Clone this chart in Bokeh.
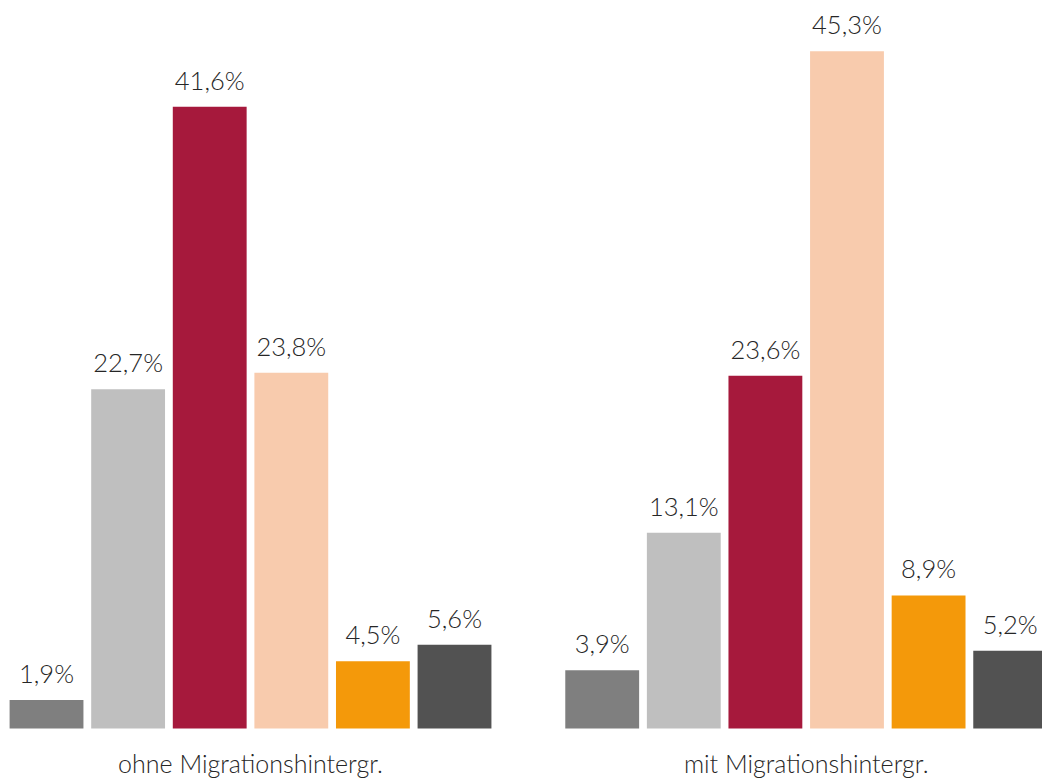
from bokeh.plotting import figure
from bokeh.models import ColumnDataSource, Range1d
from bokeh.core.properties import value
from bokeh.embed import file_html
from bokeh.resources import INLINE

groups = ["ohne Migrationshintergr.", "mit Migrationshintergr."]
ohne = [1.9, 22.7, 41.6, 23.8, 4.5, 5.6]
mit = [3.9, 13.1, 23.6, 45.3, 8.9, 5.2]
colors = ["#7f7f7f", "#bfbfbf", "#a6193c", "#f8cbad", "#f4990a", "#525252"]

FONT = "Lato Light"
group_gap = 6.81
bar_w = 0.905

xs, tops, cols, labels = [], [], [], []
for g, vals in enumerate([ohne, mit]):
    for i, v in enumerate(vals):
        xs.append(g * group_gap + i)
        tops.append(v)
        cols.append(colors[i])
        labels.append(f"{v:.1f}".replace(".", ",") + "%")

src = ColumnDataSource(dict(x=xs, top=tops, color=cols, label=labels))

p = figure(width=1042, height=778, output_backend="svg", toolbar_location=None,
           x_range=Range1d(-0.564, 12.206), y_range=Range1d(-3.344, 48.70),
           min_border=0, outline_line_color=None)
p.xaxis.visible = False
p.yaxis.visible = False
p.xgrid.visible = False
p.ygrid.visible = False

p.vbar(x="x", top="top", bottom=0, width=bar_w, color="color", line_color=None, source=src)
p.text(x="x", y="top", text="label", source=src, text_align="center",
       text_baseline="alphabetic", y_offset=-27, text_font=value(FONT),
       text_font_size="25.5px", text_color="#262626")

gsrc = ColumnDataSource(dict(x=[2.5, group_gap + 2.5], y=[0, 0], t=groups))
p.text(x="x", y="y", text="t", source=gsrc, text_align="center",
       text_baseline="middle", y_offset=34, text_font=value(FONT),
       text_font_size="25px", text_color="#262626")

open("out.html", "w").write(file_html(p, INLINE))
